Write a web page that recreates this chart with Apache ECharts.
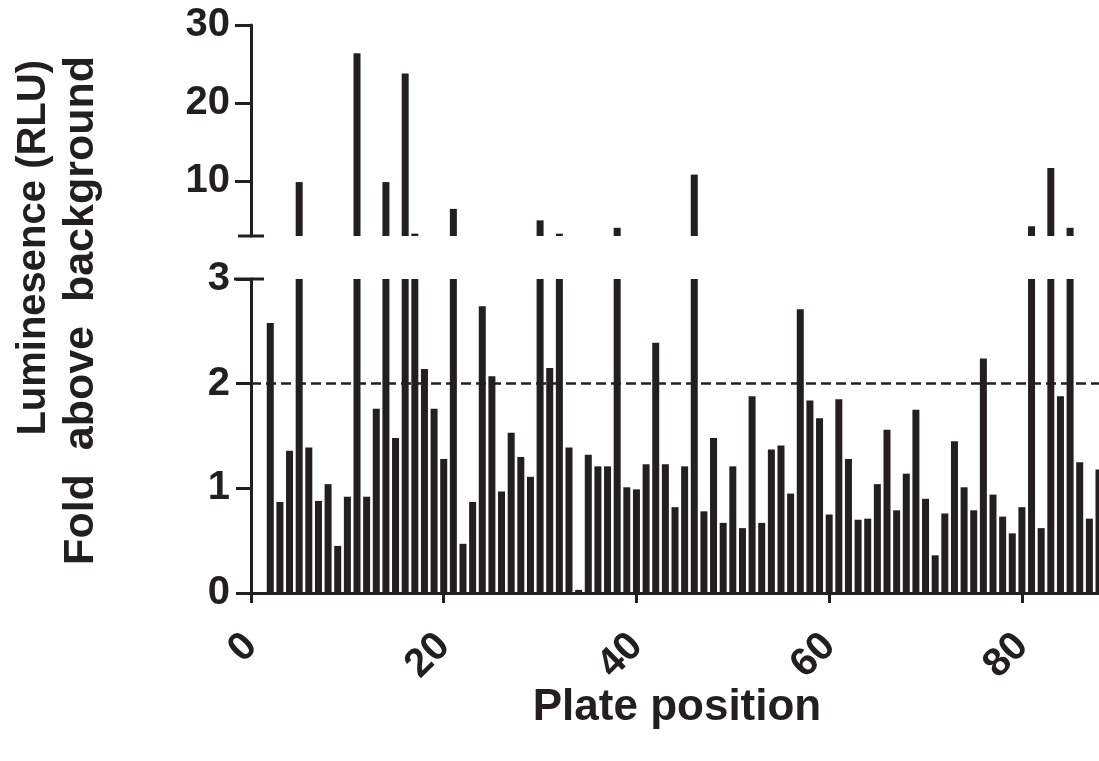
<!DOCTYPE html>
<html>
<head>
<meta charset="utf-8">
<script src="https://cdn.jsdelivr.net/npm/echarts@6/dist/echarts.min.js"></script>
<style>
  html, body { margin: 0; padding: 0; background: #fff; }
  #chart { width: 1099px; height: 761px; }
</style>
</head>
<body>
<div id="chart"></div>
<script>
// plate positions on the x axis
const positions = [
  1, 2, 3, 4, 5, 6, 7, 8, 9, 10,
  11, 12, 13, 14, 15, 16, 17, 18, 19, 20,
  21, 22, 23, 24, 25, 26, 27, 28, 29, 30,
  31, 32, 33, 34, 35, 36, 37, 38, 39, 40,
  41, 42, 43, 44, 45, 46, 47, 48, 49, 50,
  51, 52, 53, 54, 55, 56, 57, 58, 59, 60,
  61, 62, 63, 64, 65, 66, 67, 68, 69, 70,
  71, 72, 73, 74, 75, 76, 77, 78, 79, 80,
  81, 82, 83, 84, 85, 86, 87, 88
];
// fold above background, one per position
const fold = [
  null, 2.58, 0.87, 1.36, 9.9, 1.39, 0.88, 1.04, 0.45, 0.92,
  26.4, 0.92, 1.76, 9.9, 1.48, 23.8, 3.3, 2.14, 1.76, 1.28,
  6.47, 0.47, 0.87, 2.74, 2.07, 0.97, 1.53, 1.30, 1.11, 5.0,
  2.15, 3.3, 1.39, 0.03, 1.32, 1.21, 1.21, 4.05, 1.01, 0.99,
  1.23, 2.39, 1.23, 0.82, 1.21, 10.86, 0.78, 1.48, 0.67, 1.21,
  0.62, 1.88, 0.67, 1.37, 1.41, 0.95, 2.71, 1.84, 1.67, 0.75,
  1.85, 1.28, 0.70, 0.71, 1.04, 1.56, 0.79, 1.14, 1.75, 0.90,
  0.36, 0.76, 1.45, 1.01, 0.79, 2.24, 0.94, 0.73, 0.57, 0.82,
  4.25, 0.62, 11.7, 1.88, 4.05, 1.25, 0.71, 1.18
];
const xTicks = [0, 20, 40, 60, 80];
const upperTicks = [10, 20, 30];
const lowerTicks = [0, 1, 2, 3];
const threshold = 2;

const ink = '#231f20';
const font = '"Liberation Sans", Arial, sans-serif';
const barData = positions.map((p, i) => [p, fold[i]]);

const chart = echarts.init(document.getElementById('chart'));

const axisLineStyle = { color: ink, width: 3 };
const labelStyle = { color: ink, fontFamily: font, fontWeight: 'bold', fontSize: 40 };

chart.setOption({
  animation: false,
  backgroundColor: '#fff',
  grid: [
    { left: 251, top: 25, right: 0, height: 211 },
    { left: 251, top: 279, right: 0, height: 314 }
  ],
  xAxis: [
    { gridIndex: 0, type: 'value', min: 0, max: 88, show: false },
    {
      gridIndex: 1, type: 'value', min: 0, max: 88,
      axisLine: { lineStyle: axisLineStyle },
      axisTick: { length: 10, lineStyle: axisLineStyle, customValues: xTicks },
      axisLabel: Object.assign({}, labelStyle, { rotate: 45, margin: 47, customValues: xTicks }),
      splitLine: { show: false }
    }
  ],
  yAxis: [
    {
      gridIndex: 0, type: 'value', min: 3, max: 30,
      axisLine: { show: true, lineStyle: axisLineStyle },
      axisTick: { show: true, length: 16, lineStyle: axisLineStyle, customValues: upperTicks },
      axisLabel: Object.assign({}, labelStyle, { margin: 21, customValues: upperTicks }),
      splitLine: { show: false }
    },
    {
      gridIndex: 1, type: 'value', min: 0, max: 3,
      axisLine: { show: true, lineStyle: axisLineStyle },
      axisTick: { show: true, length: 15, lineStyle: axisLineStyle, customValues: lowerTicks },
      axisLabel: Object.assign({}, labelStyle, { margin: 21, customValues: lowerTicks }),
      splitLine: { show: false }
    }
  ],
  series: [
    {
      type: 'bar', xAxisIndex: 0, yAxisIndex: 0,
      data: barData, barWidth: 7, clip: true,
      itemStyle: { color: ink }
    },
    {
      type: 'bar', xAxisIndex: 1, yAxisIndex: 1,
      data: barData, barWidth: 7, clip: true,
      itemStyle: { color: ink },
      markLine: {
        silent: true,
        symbol: 'none',
        label: { show: false },
        lineStyle: { color: ink, width: 2.5, type: [10, 5] },
        data: [{ yAxis: threshold }]
      }
    }
  ]
});

// axis break marks and titles
const axisX = chart.convertToPixel({ xAxisIndex: 1 }, 0);
const upperBottom = chart.convertToPixel({ yAxisIndex: 0 }, 3);
const lowerTop = chart.convertToPixel({ yAxisIndex: 1 }, 3);
const titleStyle = { fill: ink, fontFamily: font, fontWeight: 'bold' };

chart.setOption({
  graphic: [
    { type: 'line', shape: { x1: axisX - 13, y1: upperBottom, x2: axisX + 13, y2: upperBottom },
      style: { stroke: ink, lineWidth: 3 } },
    { type: 'line', shape: { x1: axisX - 17, y1: lowerTop, x2: axisX + 13, y2: lowerTop },
      style: { stroke: ink, lineWidth: 3 } },
    { type: 'text', x: 34, y: 60, rotation: Math.PI / 2,
      style: Object.assign({ text: 'Luminesence (RLU)', align: 'right', verticalAlign: 'middle', fontSize: 40 }, titleStyle) },
    { type: 'text', x: 81, y: 56, rotation: Math.PI / 2,
      style: Object.assign({ text: 'Fold  above  background', align: 'right', verticalAlign: 'middle', fontSize: 43 }, titleStyle) },
    { type: 'text', x: 677, y: 708,
      style: Object.assign({ text: 'Plate position', align: 'center', verticalAlign: 'middle', fontSize: 44 }, titleStyle) }
  ]
});
</script>
</body>
</html>
